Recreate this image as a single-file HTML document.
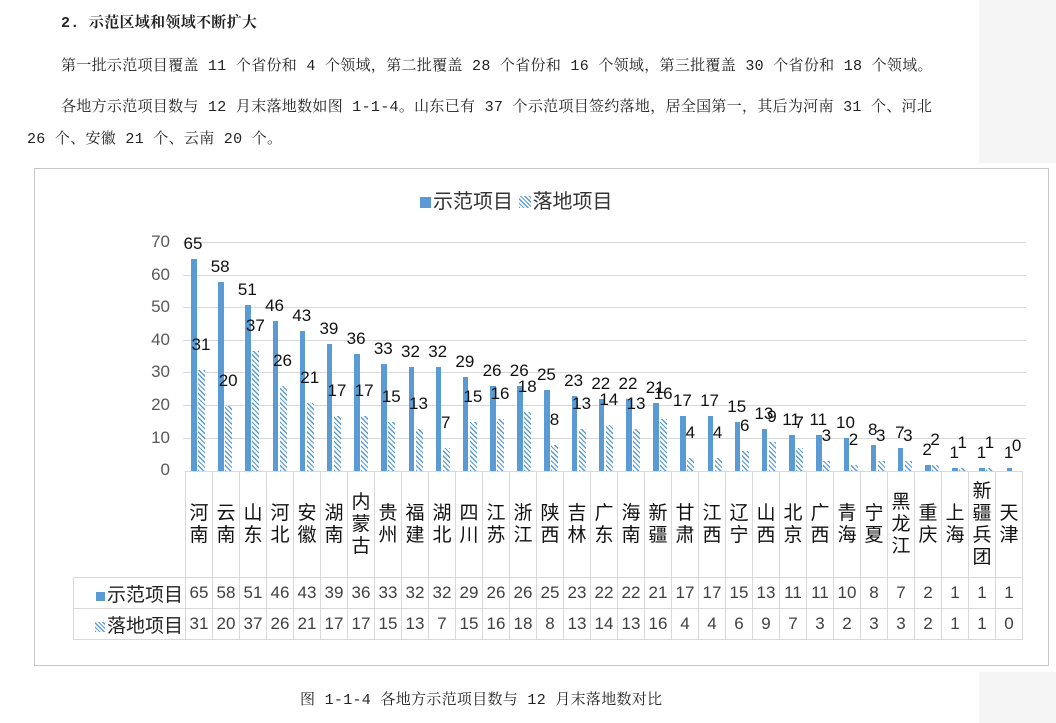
<!DOCTYPE html>
<html><head><meta charset="utf-8"><style>
body{margin:0;width:1056px;height:723px;background:#fff;position:relative;overflow:hidden;font-family:"Liberation Serif","Noto Serif CJK SC",serif;}
.grey{position:absolute;background:#f5f5f5}
.p{position:absolute;font-size:15px;letter-spacing:0.3px;color:#222;white-space:nowrap;font-family:"Liberation Mono","Noto Serif CJK SC",serif}
.box{position:absolute;left:34px;top:168px;width:1015px;height:498px;border:1px solid #c8c8c8;box-sizing:border-box;background:#fff}
.sans{font-family:"Liberation Sans","Noto Sans CJK SC",sans-serif}
.grid{position:absolute;left:183px;width:843px;height:1px;background:#d9d9d9}
.yl{position:absolute;left:130px;width:40px;text-align:right;font-size:17px;color:#595959;line-height:16px}
.plot{position:absolute;left:183px;top:236px;height:235px;display:flex}
.c{position:relative;width:27.2px;height:235px}
.a{position:absolute;left:8px;bottom:0;width:5.5px;background:#5b9bd5;height:calc(var(--a)*3.257px)}
.b{position:absolute;left:15px;bottom:0;width:7px;height:calc(var(--b)*3.257px);background:repeating-linear-gradient(45deg,#5b9bd5 0 1.3px,#fff 1.3px 3.4px)}
.la,.lb{position:absolute;width:30px;text-align:center;font-size:17px;line-height:16px;color:#111}
.la{left:-5px;bottom:calc(var(--a)*3.257px + 7px)}
.lb{left:3px;bottom:calc(var(--b)*3.257px + 17px)}
.tbl{position:absolute;left:73px;top:471px;border-collapse:collapse;font-size:17px;color:#404040}
.tbl td{border:1px solid #d9d9d9;padding:0;text-align:center;width:26px}
.tbl tr.cat td{height:105px;font-size:19px;line-height:22px;color:#111}
.tbl tr.v td{height:30px}
.tbl td.h{width:109px;text-align:right;font-size:19px;color:#222;padding-right:2px}
.sq{display:inline-block;width:9px;height:9px;background:#5b9bd5;margin-right:2px}
.hs{display:inline-block;width:10px;height:10px;margin-right:2px;background:repeating-linear-gradient(45deg,#5b9bd5 0 1.2px,#fff 1.2px 3px)}
</style></head><body>
<div class="grey" style="left:979px;top:0;width:77px;height:163px"></div>
<div class="grey" style="left:979px;top:672px;width:77px;height:51px"></div>
<div class="p" style="left:61px;top:11px;font-weight:bold">2. 示范区域和领域不断扩大</div>
<div class="p" style="left:61px;top:54px">第一批示范项目覆盖 11 个省份和 4 个领域，第二批覆盖 28 个省份和 16 个领域，第三批覆盖 30 个省份和 18 个领域。</div>
<div class="p" style="left:61px;top:95px">各地方示范项目数与 12 月末落地数如图 1-1-4。山东已有 37 个示范项目签约落地，居全国第一，其后为河南 31 个、河北</div>
<div class="p" style="left:27px;top:127px">26 个、安徽 21 个、云南 20 个。</div>
<div class="box"></div>
<div class="sans" style="position:absolute;left:420px;top:189px;font-size:20px;color:#333;line-height:26px"><span class="sq" style="width:11px;height:11px"></span>示范项目 <span class="hs" style="width:12px;height:12px"></span>落地项目</div>
<div class="grid" style="top:242px"></div><div class="grid" style="top:275px"></div><div class="grid" style="top:307px"></div><div class="grid" style="top:340px"></div><div class="grid" style="top:372px"></div><div class="grid" style="top:405px"></div><div class="grid" style="top:438px"></div>
<div class="sans">
<div class="yl" style="top:234px">70</div><div class="yl" style="top:267px">60</div><div class="yl" style="top:299px">50</div><div class="yl" style="top:332px">40</div><div class="yl" style="top:364px">30</div><div class="yl" style="top:397px">20</div><div class="yl" style="top:430px">10</div><div class="yl" style="top:462px">0</div>
<div class="plot">
<div class="c" style="--a:65;--b:31"><div class="a"></div><div class="b"></div><div class="la">65</div><div class="lb">31</div></div>
<div class="c" style="--a:58;--b:20"><div class="a"></div><div class="b"></div><div class="la">58</div><div class="lb">20</div></div>
<div class="c" style="--a:51;--b:37"><div class="a"></div><div class="b"></div><div class="la">51</div><div class="lb">37</div></div>
<div class="c" style="--a:46;--b:26"><div class="a"></div><div class="b"></div><div class="la">46</div><div class="lb">26</div></div>
<div class="c" style="--a:43;--b:21"><div class="a"></div><div class="b"></div><div class="la">43</div><div class="lb">21</div></div>
<div class="c" style="--a:39;--b:17"><div class="a"></div><div class="b"></div><div class="la">39</div><div class="lb">17</div></div>
<div class="c" style="--a:36;--b:17"><div class="a"></div><div class="b"></div><div class="la">36</div><div class="lb">17</div></div>
<div class="c" style="--a:33;--b:15"><div class="a"></div><div class="b"></div><div class="la">33</div><div class="lb">15</div></div>
<div class="c" style="--a:32;--b:13"><div class="a"></div><div class="b"></div><div class="la">32</div><div class="lb">13</div></div>
<div class="c" style="--a:32;--b:7"><div class="a"></div><div class="b"></div><div class="la">32</div><div class="lb">7</div></div>
<div class="c" style="--a:29;--b:15"><div class="a"></div><div class="b"></div><div class="la">29</div><div class="lb">15</div></div>
<div class="c" style="--a:26;--b:16"><div class="a"></div><div class="b"></div><div class="la">26</div><div class="lb">16</div></div>
<div class="c" style="--a:26;--b:18"><div class="a"></div><div class="b"></div><div class="la">26</div><div class="lb">18</div></div>
<div class="c" style="--a:25;--b:8"><div class="a"></div><div class="b"></div><div class="la">25</div><div class="lb">8</div></div>
<div class="c" style="--a:23;--b:13"><div class="a"></div><div class="b"></div><div class="la">23</div><div class="lb">13</div></div>
<div class="c" style="--a:22;--b:14"><div class="a"></div><div class="b"></div><div class="la">22</div><div class="lb">14</div></div>
<div class="c" style="--a:22;--b:13"><div class="a"></div><div class="b"></div><div class="la">22</div><div class="lb">13</div></div>
<div class="c" style="--a:21;--b:16"><div class="a"></div><div class="b"></div><div class="la">21</div><div class="lb">16</div></div>
<div class="c" style="--a:17;--b:4"><div class="a"></div><div class="b"></div><div class="la">17</div><div class="lb">4</div></div>
<div class="c" style="--a:17;--b:4"><div class="a"></div><div class="b"></div><div class="la">17</div><div class="lb">4</div></div>
<div class="c" style="--a:15;--b:6"><div class="a"></div><div class="b"></div><div class="la">15</div><div class="lb">6</div></div>
<div class="c" style="--a:13;--b:9"><div class="a"></div><div class="b"></div><div class="la">13</div><div class="lb">9</div></div>
<div class="c" style="--a:11;--b:7"><div class="a"></div><div class="b"></div><div class="la">11</div><div class="lb">7</div></div>
<div class="c" style="--a:11;--b:3"><div class="a"></div><div class="b"></div><div class="la">11</div><div class="lb">3</div></div>
<div class="c" style="--a:10;--b:2"><div class="a"></div><div class="b"></div><div class="la">10</div><div class="lb">2</div></div>
<div class="c" style="--a:8;--b:3"><div class="a"></div><div class="b"></div><div class="la">8</div><div class="lb">3</div></div>
<div class="c" style="--a:7;--b:3"><div class="a"></div><div class="b"></div><div class="la">7</div><div class="lb">3</div></div>
<div class="c" style="--a:2;--b:2"><div class="a"></div><div class="b"></div><div class="la">2</div><div class="lb">2</div></div>
<div class="c" style="--a:1;--b:1"><div class="a"></div><div class="b"></div><div class="la">1</div><div class="lb">1</div></div>
<div class="c" style="--a:1;--b:1"><div class="a"></div><div class="b"></div><div class="la">1</div><div class="lb">1</div></div>
<div class="c" style="--a:1;--b:0"><div class="a"></div><div class="b"></div><div class="la">1</div><div class="lb">0</div></div>
</div>
<table class="tbl">
<tr class="cat"><td style="border:none;border-right:1px solid #d9d9d9"></td><td>河<br>南</td><td>云<br>南</td><td>山<br>东</td><td>河<br>北</td><td>安<br>徽</td><td>湖<br>南</td><td>内<br>蒙<br>古</td><td>贵<br>州</td><td>福<br>建</td><td>湖<br>北</td><td>四<br>川</td><td>江<br>苏</td><td>浙<br>江</td><td>陕<br>西</td><td>吉<br>林</td><td>广<br>东</td><td>海<br>南</td><td>新<br>疆</td><td>甘<br>肃</td><td>江<br>西</td><td>辽<br>宁</td><td>山<br>西</td><td>北<br>京</td><td>广<br>西</td><td>青<br>海</td><td>宁<br>夏</td><td>黑<br>龙<br>江</td><td>重<br>庆</td><td>上<br>海</td><td>新<br>疆<br>兵<br>团</td><td>天<br>津</td></tr>
<tr class="v"><td class="h"><span class="sq"></span>示范项目</td><td>65</td><td>58</td><td>51</td><td>46</td><td>43</td><td>39</td><td>36</td><td>33</td><td>32</td><td>32</td><td>29</td><td>26</td><td>26</td><td>25</td><td>23</td><td>22</td><td>22</td><td>21</td><td>17</td><td>17</td><td>15</td><td>13</td><td>11</td><td>11</td><td>10</td><td>8</td><td>7</td><td>2</td><td>1</td><td>1</td><td>1</td></tr>
<tr class="v"><td class="h"><span class="hs"></span>落地项目</td><td>31</td><td>20</td><td>37</td><td>26</td><td>21</td><td>17</td><td>17</td><td>15</td><td>13</td><td>7</td><td>15</td><td>16</td><td>18</td><td>8</td><td>13</td><td>14</td><td>13</td><td>16</td><td>4</td><td>4</td><td>6</td><td>9</td><td>7</td><td>3</td><td>2</td><td>3</td><td>3</td><td>2</td><td>1</td><td>1</td><td>0</td></tr>
</table>
</div>
<div class="p" style="left:300px;top:688px">图 1-1-4  各地方示范项目数与 12 月末落地数对比</div>
</body></html>
